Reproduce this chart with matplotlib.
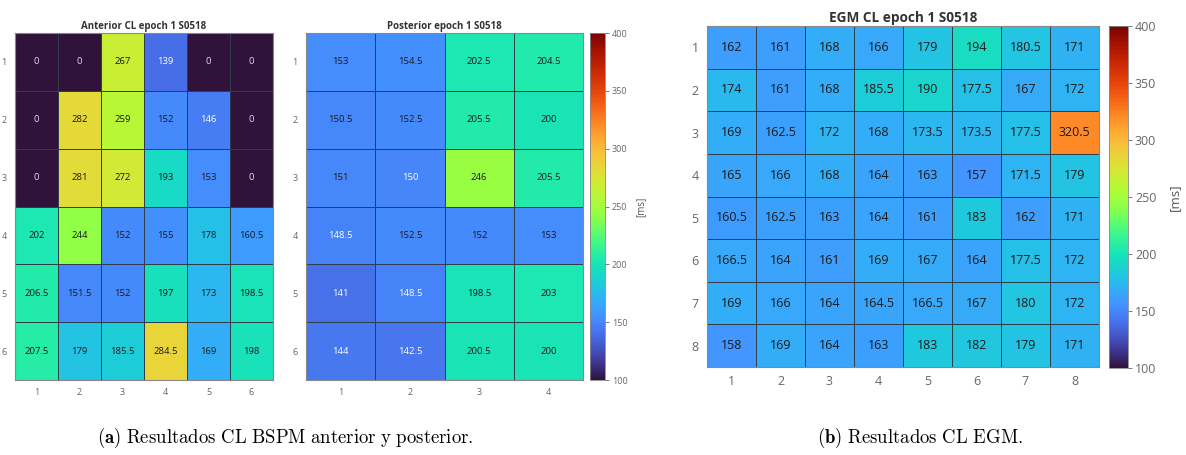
import numpy as np
import matplotlib
matplotlib.use("Agg")
import matplotlib.pyplot as plt

plt.rcParams['font.family'] = ['Open Sans', 'DejaVu Sans']
plt.rcParams['mathtext.fontset'] = 'cm'

anterior = [
    [0, 0, 267, 139, 0, 0],
    [0, 282, 259, 152, 146, 0],
    [0, 281, 272, 193, 153, 0],
    [202, 244, 152, 155, 178, 160.5],
    [206.5, 151.5, 152, 197, 173, 198.5],
    [207.5, 179, 185.5, 284.5, 169, 198],
]
posterior = [
    [153, 154.5, 202.5, 204.5],
    [150.5, 152.5, 205.5, 200],
    [151, 150, 246, 205.5],
    [148.5, 152.5, 152, 153],
    [141, 148.5, 198.5, 203],
    [144, 142.5, 200.5, 200],
]
egm = [
    [162, 161, 168, 166, 179, 194, 180.5, 171],
    [174, 161, 168, 185.5, 190, 177.5, 167, 172],
    [169, 162.5, 172, 168, 173.5, 173.5, 177.5, 320.5],
    [165, 166, 168, 164, 163, 157, 171.5, 179],
    [160.5, 162.5, 163, 164, 161, 183, 162, 171],
    [166.5, 164, 161, 169, 167, 164, 177.5, 172],
    [169, 166, 164, 164.5, 166.5, 167, 180, 172],
    [158, 169, 164, 163, 183, 182, 179, 171],
]
titles = ["Anterior CL epoch 1 S0518", "Posterior epoch 1 S0518", "EGM CL epoch 1 S0518"]
cbar_ticks = [100, 150, 200, 250, 300, 350, 400]
cbar_label = "[ms]"
captions = [r"$\mathbf{(a)}\ \mathrm{Resultados\ CL\ BSPM\ anterior\ y\ posterior.}$",
            r"$\mathbf{(b)}\ \mathrm{Resultados\ CL\ EGM.}$"]

VMIN, VMAX = 100, 400
cmap = plt.get_cmap('turbo')
W, H = 1186, 455
fig = plt.figure(figsize=(W / 100, H / 100), dpi=100)


def ax_px(x0, y0, x1, y1):
    return fig.add_axes([x0 / W, 1 - y1 / H, (x1 - x0) / W, (y1 - y0) / H])


def heat(ax, data, title, fs_cell, fs_tick, fs_title):
    arr = np.array(data, dtype=float)
    nr, nc = arr.shape
    m = ax.pcolormesh(np.arange(nc + 1) + 0.5, np.arange(nr + 1) + 0.5, arr,
                      cmap=cmap, vmin=VMIN, vmax=VMAX,
                      edgecolors='#2f3f4a', linewidth=0.5)
    ax.set_xlim(0.5, nc + 0.5)
    ax.set_ylim(nr + 0.5, 0.5)
    ax.set_xticks(range(1, nc + 1))
    ax.set_yticks(range(1, nr + 1))
    ax.tick_params(length=0, labelsize=fs_tick, colors='#666666', pad=6)
    for s in ax.spines.values():
        s.set_color('#888888')
        s.set_linewidth(0.8)
    for i in range(nr):
        for j in range(nc):
            v = arr[i, j]
            txt = ('%g' % v)
            col = 'white' if (v < 150.5) else '#1a1a1a'
            if v == 0:
                col = '#dddddd'
            ax.text(j + 1, i + 1, txt, ha='center', va='center',
                    fontsize=fs_cell, color=col)
    ax.set_title(title, fontsize=fs_title, fontweight='bold', color='#333333', pad=3)
    return m


def cbar(m, x0, y0, x1, y1, fs, label_x):
    cax = ax_px(x0, y0, x1, y1)
    cb = fig.colorbar(m, cax=cax, ticks=cbar_ticks)
    cb.ax.tick_params(labelsize=fs, colors='#666666', length=3, width=0.6, pad=2)
    cb.outline.set_edgecolor('#888888')
    cb.outline.set_linewidth(0.6)
    fig.text(label_x / W, 1 - ((y0 + y1) / 2) / H, cbar_label, rotation=90,
             ha='center', va='center', fontsize=fs + 0.5, color='#555555')


a1 = ax_px(15, 33, 273, 380)
m1 = heat(a1, anterior, titles[0], 6.8, 6.5, 7)
a2 = ax_px(306, 33, 583, 380)
m2 = heat(a2, posterior, titles[1], 6.8, 6.5, 7)
cbar(m2, 590, 33, 605, 380, 6.5, 641)

a3 = ax_px(707, 26, 1099, 367)
m3 = heat(a3, egm, titles[2], 9, 9, 9.8)
cbar(m3, 1109, 26, 1128, 368, 9, 1174)

fig.text(285 / W, 1 - 438 / H, captions[0], ha='center', va='center', fontsize=13.5)
fig.text(920 / W, 1 - 438 / H, captions[1], ha='center', va='center', fontsize=13.5)

fig.savefig('out.png', dpi=100)
